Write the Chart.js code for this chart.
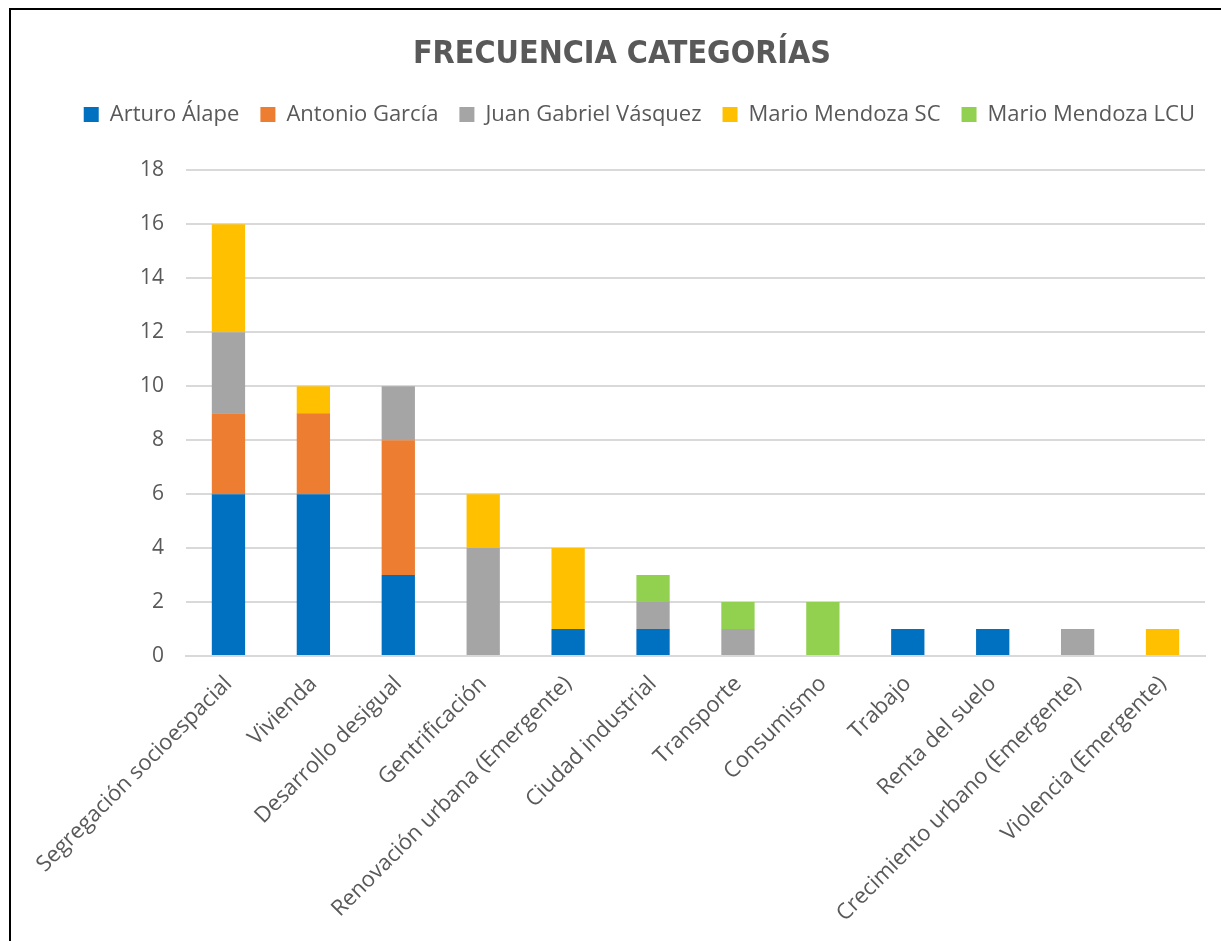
<!DOCTYPE html>
<html>
<head>
<meta charset="utf-8">
<script src="https://cdn.jsdelivr.net/npm/chart.js@4"></script>
<style>
  html, body { margin: 0; padding: 0; background: #fff; overflow: hidden; }
  #frame {
    position: absolute; left: 9px; top: 8px;
    width: 1300px; height: 1000px;
    border: 2px solid #000; box-sizing: border-box;
  }
  #wrap { position: absolute; left: 0; top: 0; width: 1210px; height: 931px; }
</style>
</head>
<body>
<div id="frame"><div id="wrap"><canvas id="chart"></canvas></div></div>
<script>
// categories (x axis)
const categories = [
  "Segregación socioespacial", "Vivienda", "Desarrollo desigual", "Gentrificación",
  "Renovación urbana (Emergente)", "Ciudad industrial", "Transporte", "Consumismo",
  "Trabajo", "Renta del suelo", "Crecimiento urbano (Emergente)", "Violencia (Emergente)",
];

// series values, one per author
const arturoAlape    = [6, 6, 3, 0, 1, 1, 0, 0, 1, 1, 0, 0];
const antonioGarcia  = [3, 3, 5, 0, 0, 0, 0, 0, 0, 0, 0, 0];
const juanGabriel    = [3, 0, 2, 4, 0, 1, 1, 0, 0, 0, 1, 0];
const marioSC        = [4, 1, 0, 2, 3, 0, 0, 0, 0, 0, 0, 1];
const marioLCU       = [0, 0, 0, 0, 0, 1, 1, 2, 0, 0, 0, 0];

const seriesNames = ["Arturo Álape", "Antonio García", "Juan Gabriel Vásquez", "Mario Mendoza SC", "Mario Mendoza LCU"];
const seriesColors = ["#0070C0", "#ED7D31", "#A5A5A5", "#FFC000", "#92D050"];
const seriesValues = [arturoAlape, antonioGarcia, juanGabriel, marioSC, marioLCU];

const textColor = "#595959";
const gridColor = "#D9D9D9";
const font = "'Open Sans', 'Liberation Sans', sans-serif";

const datasets = seriesNames.map((name, i) => ({
  label: name,
  data: seriesValues[i],
  backgroundColor: seriesColors[i],
  borderWidth: 0,
  categoryPercentage: 0.8,
  barPercentage: 0.49,
}));

// fixed legend height so the plot area starts where it does in the original,
// and nudge the legend a little to the right afterwards
const legendPlace = {
  id: "legendPlace",
  beforeInit(chart) {
    const legend = chart.legend;
    if (!legend) return;
    const fit = legend.fit;
    legend.fit = function () {
      fit.call(this);
      this.height = 88;
    };
  },
  afterLayout(chart) {
    const legend = chart.legend;
    if (!legend) return;
    legend.left += 11;
    legend.right += 11;
  },
};

new Chart(document.getElementById("chart"), {
  type: "bar",
  data: { labels: categories, datasets },
  plugins: [legendPlace],
  options: {
    responsive: true,
    maintainAspectRatio: false,
    animation: false,
    layout: { padding: { left: 28, right: 16, top: 0, bottom: 0 } },
    plugins: {
      title: {
        display: true,
        text: "FRECUENCIA CATEGORÍAS",
        color: textColor,
        font: { family: "'DejaVu Sans Condensed', 'Liberation Sans', sans-serif", size: 32, weight: "bold" },
        padding: { top: 25, bottom: 9 },
      },
      legend: {
        position: "top",
        align: "end",
        labels: {
          color: textColor,
          font: { family: font, size: 22 },
          boxWidth: 15,
          boxHeight: 15,
          padding: 21,
        },
      },
      tooltip: { enabled: false },
    },
    scales: {
      x: {
        stacked: true,
        grid: { display: false, drawTicks: false },
        border: { color: gridColor, width: 2 },
        afterFit(scale) { scale.height = 931 - 646; },
        ticks: {
          color: textColor,
          font: { family: font, size: 22 },
          maxRotation: 45,
          minRotation: 45,
          padding: 15,
        },
      },
      y: {
        stacked: true,
        min: 0,
        max: 18,
        grid: { color: gridColor, lineWidth: 2, drawTicks: false },
        border: { display: false },
        afterFit(scale) { scale.width = 147; },
        ticks: {
          stepSize: 2,
          color: textColor,
          font: { family: font, size: 21 },
          padding: 22,
        },
      },
    },
  },
});
</script>
</body>
</html>
